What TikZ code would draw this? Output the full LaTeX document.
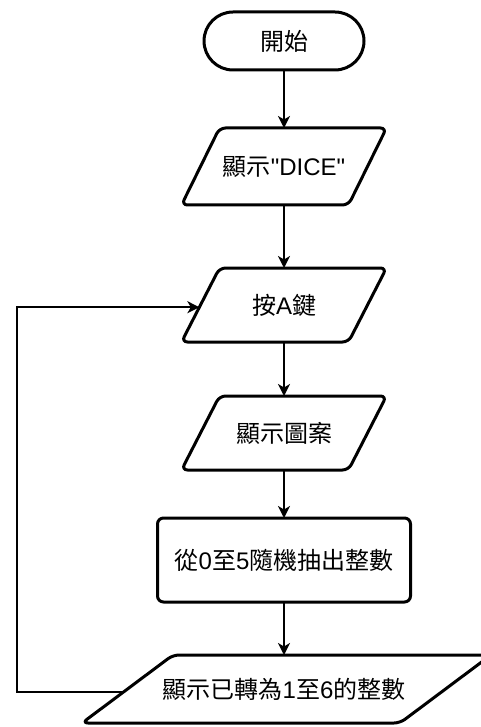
\documentclass[tikz,border=0pt]{standalone}
\usepackage{fontspec}
\newfontfamily\latin{Liberation Sans}
\newfontfamily\cjk{Noto Sans CJK TC}
\usetikzlibrary{arrows.meta,calc}
\tikzset{
  txt/.style={inner sep=0pt, outer sep=0pt, font=\latin\fontsize{24}{28}\selectfont, text=black},
  shapeline/.style={line width=3pt, rounded corners=6pt, line join=round},
  conn/.style={line width=2pt, -{Stealth[length=12pt,width=12pt,inset=3.5pt]}},
}
\newcommand{\para}[2]{% node name, slant
  \draw[shapeline] ($(#1.north west)+(#2,0)$) -- (#1.north east) -- ($(#1.south east)-(#2,0)$) -- (#1.south west) -- cycle;}
\begin{document}
\begin{tikzpicture}[x=1pt,y=-1pt]
\clip (0,0) rectangle (481,727);
% nodes
\node[txt, minimum width=160, minimum height=58] (start) at (284,41) {\cjk 開始};
\node[txt, minimum width=205, minimum height=77] (p1) at (284,166.5) {{\cjk 顯示}"DICE"};
\node[txt, minimum width=205, minimum height=74] (p2) at (284,305) {{\cjk 按}A{\cjk 鍵}};
\node[txt, minimum width=205, minimum height=74] (p3) at (284,433) {\cjk 顯示圖案};
\node[txt, minimum width=253, minimum height=84] (r1) at (284,560) {{\cjk 從}0{\cjk 至}5{\cjk 隨機抽出整數}};
\node[txt, minimum width=409, minimum height=68] (p4) at (286.5,689) {};
\node[txt] (p4t) at (284,689) {{\cjk 顯示已轉為}1{\cjk 至}6{\cjk 的整數}};
% shapes
\draw[line width=3pt, rounded corners=29pt] (start.south west) rectangle (start.north east);
\para{p1}{38}
\para{p2}{38}
\para{p3}{38}
\draw[shapeline] (r1.south west) rectangle (r1.north east);
\para{p4}{91}
% connectors
\draw[conn] (start.south) -- (p1.north);
\draw[conn] (p1.south) -- (p2.north);
\draw[conn] (p2.south) -- (p3.north);
\draw[conn] (p3.south) -- (r1.north);
\draw[conn] (r1.south) -- (r1.south |- p4.north);
\coordinate (loopout) at ($(p4.south west)!0.45!($(p4.north west)+(91,0)$)$);
\coordinate (loopin) at ($(p2.south west)!0.47!($(p2.north west)+(38,0)$)$);
\draw[conn] (loopout) -- (loopout -| 17,0) |- (loopin);
\end{tikzpicture}
\end{document}
